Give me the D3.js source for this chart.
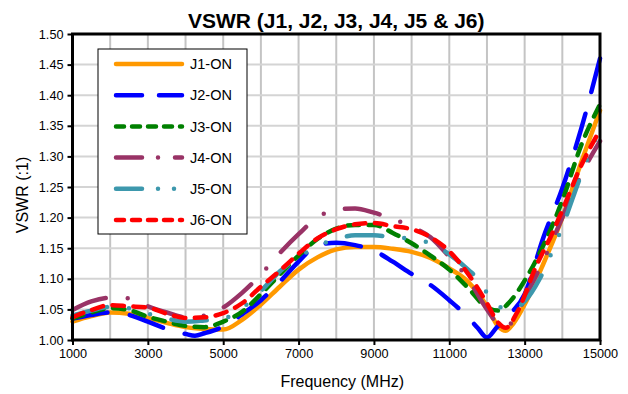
<!DOCTYPE html>
<html>
<head>
<meta charset="utf-8">
<script src="https://cdn.jsdelivr.net/npm/d3@7"></script>
<style>
  body { margin: 0; background: #fff; }
  text { font-family: "Liberation Sans", Arial, sans-serif; fill: #000; }
</style>
</head>
<body>
<svg id="chart"></svg>
<script>
// series values: [frequency MHz, VSWR]
const j1 = [[1000,1.030],[1500,1.039],[2000,1.045],[2500,1.043],[3000,1.036],[3500,1.028],[4000,1.021],[4500,1.018],[5000,1.017],[5500,1.033],[6000,1.058],[6500,1.087],[7000,1.115],[7500,1.135],[8000,1.148],[8500,1.152],[9000,1.152],[9500,1.149],[10000,1.144],[10500,1.134],[11000,1.117],[11500,1.095],[12000,1.055],[12300,1.022],[12500,1.015],[12700,1.027],[13000,1.058],[13500,1.125],[14000,1.200],[14500,1.290],[15000,1.375]];
const j2 = [[1000,1.035],[1500,1.041],[2000,1.045],[2500,1.041],[3000,1.030],[3500,1.018],[4000,1.010],[4250,1.007],[4500,1.011],[5000,1.022],[5500,1.042],[6000,1.065],[6500,1.095],[7000,1.128],[7500,1.155],[8000,1.159],[8500,1.155],[9000,1.146],[9500,1.128],[10000,1.108],[10500,1.090],[11000,1.065],[11500,1.037],[11750,1.020],[12000,1.004],[12250,1.020],[12500,1.036],[13000,1.075],[13500,1.168],[14000,1.248],[14500,1.345],[15000,1.460]];
const j3 = [[1000,1.035],[1500,1.045],[2000,1.052],[2500,1.049],[3000,1.038],[3500,1.030],[4000,1.023],[4500,1.021],[5000,1.030],[5500,1.046],[6000,1.075],[6500,1.107],[7000,1.138],[7500,1.165],[8000,1.182],[8500,1.188],[9000,1.188],[9500,1.175],[10000,1.158],[10500,1.138],[11000,1.115],[11500,1.085],[12000,1.053],[12300,1.048],[12600,1.062],[13000,1.097],[13500,1.155],[14000,1.228],[14500,1.318],[15000,1.385]];
const j4 = [[1000,1.049],[1500,1.063],[2000,1.069],[2500,1.068],[3000,1.055],[3500,1.045],[4000,1.037],[4500,1.040],[5000,1.053],[5500,1.077],[6000,1.107],[6500,1.142],[7000,1.173],[7500,1.200],[8000,1.213],[8500,1.215],[9000,1.208],[9500,1.198],[10000,1.185],[10500,1.168],[11000,1.136],[11500,1.100],[12000,1.050],[12400,1.022],[12700,1.030],[13000,1.068],[13500,1.130],[14000,1.200],[14500,1.270],[15000,1.325]];
const j5 = [[1000,1.040],[1500,1.048],[2000,1.054],[2500,1.052],[3000,1.043],[3500,1.035],[4000,1.030],[4500,1.032],[5000,1.035],[5500,1.052],[6000,1.080],[6500,1.112],[7000,1.135],[7500,1.153],[8000,1.165],[8500,1.171],[9000,1.171],[9500,1.168],[10000,1.165],[10500,1.158],[11000,1.140],[11500,1.115],[11850,1.093],[12100,1.066],[12400,1.053],[12700,1.052],[13000,1.063],[13400,1.100],[13700,1.140],[14000,1.185],[14500,1.270],[15000,1.345]];
const j6 = [[1000,1.037],[1500,1.049],[2000,1.057],[2500,1.055],[3000,1.053],[3500,1.043],[4000,1.036],[4500,1.037],[5000,1.044],[5500,1.060],[6000,1.087],[6500,1.113],[7000,1.141],[7500,1.166],[8000,1.181],[8500,1.189],[9000,1.191],[9500,1.186],[10000,1.181],[10500,1.168],[11000,1.145],[11500,1.108],[12000,1.060],[12300,1.028],[12500,1.020],[12800,1.045],[13300,1.120],[13700,1.170],[14000,1.212],[14500,1.285],[15000,1.343]];

const seriesNames = ["J1-ON", "J2-ON", "J3-ON", "J4-ON", "J5-ON", "J6-ON"];
const xTicks = [1000, 3000, 5000, 7000, 9000, 11000, 13000, 15000];
const yTicks = [1.00, 1.05, 1.10, 1.15, 1.20, 1.25, 1.30, 1.35, 1.40, 1.45, 1.50];

// styles
const colors = ["#ff9900", "#0000ff", "#008000", "#993366", "#3d98ad", "#ff0000"];
const plotDash = [null, "35.5,22.5", "11.5,9.5", "35.5,22,0,22", "35.5,22,0,22,0,22", "11.5,9.5"];
const legendDash = [null, "26,17", "8,8", "26,16,0,17", "26,16,0,16,0,16", "8,8"];

const w = 628, h = 394;
const m = { left: 72.5, right: 28, top: 34, bottom: 54 };

const svg = d3.select("#chart").attr("width", w).attr("height", h);

const x = d3.scaleLinear().domain([1000, 15000]).range([m.left, w - m.right]);
const y = d3.scaleLinear().domain([1.0, 1.5]).range([h - m.bottom, m.top]);

// grid
svg.append("g")
  .selectAll("line")
  .data(d3.range(2000, 15000, 1000))
  .join("line")
  .attr("x1", d => x(d)).attr("x2", d => x(d))
  .attr("y1", y(1.0)).attr("y2", y(1.5))
  .attr("stroke", "#c4c4c4").attr("stroke-width", 2);

svg.append("g")
  .selectAll("line")
  .data(yTicks.slice(1, -1))
  .join("line")
  .attr("x1", x(1000)).attr("x2", x(15000))
  .attr("y1", d => y(d)).attr("y2", d => y(d))
  .attr("stroke", "#d4d4d4").attr("stroke-width", 2);

// series lines
const data = [j1, j2, j3, j4, j5, j6];
const line = d3.line()
  .x(d => x(d[0]))
  .y(d => y(d[1]))
  .curve(d3.curveMonotoneX);

svg.append("g")
  .selectAll("path")
  .data(data)
  .join("path")
  .attr("d", line)
  .attr("fill", "none")
  .attr("stroke", (d, i) => colors[i])
  .attr("stroke-width", 4.5)
  .attr("stroke-linecap", "round")
  .attr("stroke-linejoin", "round")
  .attr("stroke-dasharray", (d, i) => plotDash[i]);

// frame
svg.append("rect")
  .attr("x", x(1000)).attr("y", y(1.5))
  .attr("width", x(15000) - x(1000)).attr("height", y(1.0) - y(1.5))
  .attr("fill", "none").attr("stroke", "#000").attr("stroke-width", 3);

// axes
const xAxis = d3.axisBottom(x).tickValues(xTicks).tickFormat(d3.format("d")).tickSize(5).tickPadding(4);
const yAxis = d3.axisLeft(y).tickValues(yTicks).tickFormat(d3.format(".2f")).tickSize(5).tickPadding(4);

const gx = svg.append("g")
  .attr("transform", `translate(0,${y(1.0)})`)
  .call(xAxis);
const gy = svg.append("g")
  .attr("transform", `translate(${x(1000)},0)`)
  .call(yAxis);

[gx, gy].forEach(g => {
  g.select(".domain").remove();
  g.selectAll(".tick line").attr("stroke", "#000").attr("stroke-width", 2);
  g.selectAll(".tick text")
    .attr("font-size", 12.7)
    .style("font-family", "'Liberation Sans', Arial, sans-serif");
});

// title and axis labels
svg.append("text")
  .attr("x", (x(1000) + x(15000)) / 2)
  .attr("y", 28)
  .attr("text-anchor", "middle")
  .attr("font-size", 21)
  .attr("font-weight", "bold")
  .text("VSWR (J1, J2, J3, J4, J5 & J6)");

svg.append("text")
  .attr("x", (x(1000) + x(15000)) / 2 + 6)
  .attr("y", 387)
  .attr("text-anchor", "middle")
  .attr("font-size", 16)
  .text("Frequency (MHz)");

svg.append("text")
  .attr("transform", "translate(28,195) rotate(-90)")
  .attr("text-anchor", "middle")
  .attr("font-size", 16)
  .text("VSWR (:1)");

// legend
const legend = svg.append("g").attr("transform", "translate(98,49)");
legend.append("rect")
  .attr("width", 149).attr("height", 185)
  .attr("fill", "#fff").attr("stroke", "#000").attr("stroke-width", 1);

const rows = legend.selectAll("g.row")
  .data(seriesNames)
  .join("g")
  .attr("class", "row")
  .attr("transform", (d, i) => `translate(0,${15 + i * 31.2})`);

rows.append("line")
  .attr("x1", 18).attr("x2", 84)
  .attr("stroke", (d, i) => colors[i])
  .attr("stroke-width", 4.5)
  .attr("stroke-linecap", "round")
  .attr("stroke-dasharray", (d, i) => legendDash[i]);

rows.append("text")
  .attr("x", 92)
  .attr("dy", "0.36em")
  .attr("font-size", 14.5)
  .text(d => d);
</script>
</body>
</html>
